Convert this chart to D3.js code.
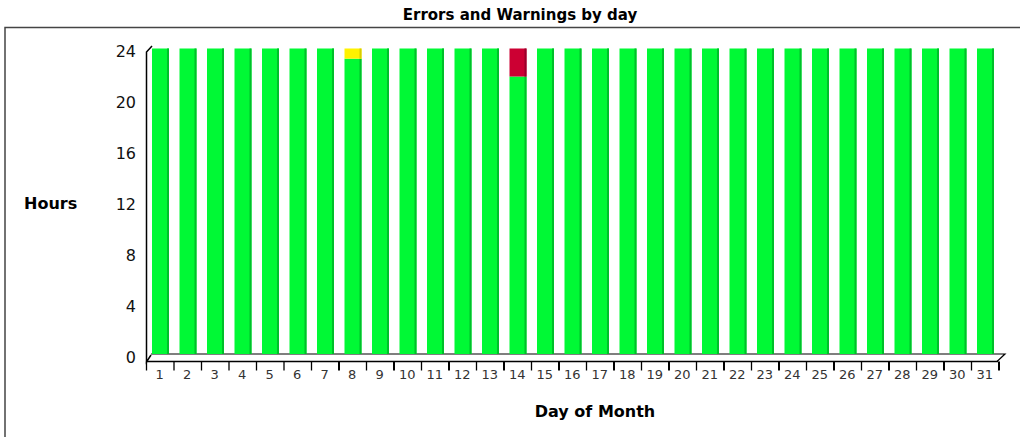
<!DOCTYPE html>
<html>
<head>
<meta charset="utf-8">
<script src="https://cdn.jsdelivr.net/npm/d3@7"></script>
<style>
  body { margin: 0; background: #fff; }
  svg { display: block; }
</style>
</head>
<body>
<svg id="chart" width="1020" height="437"></svg>
<script>
// day of month 1..31
const days = d3.range(1, 32).map(String);
// hours per day, stacked: ok (green), warning (yellow), error (red)
const okHours =      [24,24,24,24,24,24,24,23.2,24,24,24,24,24,21.8,24,24,24,24,24,24,24,24,24,24,24,24,24,24,24,24,24];
const warningHours = [0,0,0,0,0,0,0,0.8,0,0,0,0,0,0,0,0,0,0,0,0,0,0,0,0,0,0,0,0,0,0,0];
const errorHours =   [0,0,0,0,0,0,0,0,0,0,0,0,0,2.2,0,0,0,0,0,0,0,0,0,0,0,0,0,0,0,0,0];
const yTicks = [0, 4, 8, 12, 16, 20, 24];

const svg = d3.select('#chart');
const font = 'DejaVu Sans, Verdana, sans-serif';

// frame (cut off at right and bottom like the original)
svg.append('path')
  .attr('d', 'M5,437 L5,27.5 L1020,27.5')
  .attr('fill', 'none')
  .attr('stroke', '#444')
  .attr('stroke-width', 1.5);

svg.append('text')
  .attr('x', 520).attr('y', 20)
  .attr('text-anchor', 'middle')
  .style('font-family', font)
  .style('font-weight', 'bold')
  .style('font-size', '15px')
  .text('Errors and Warnings by day');

const x = d3.scaleBand().domain(days).range([146, 998.5]).padding(0);
const y = d3.scaleLinear().domain([0, 24]).range([354, 48.5]);

const barOffset = 6, barWidth = 17;

const rows = days.map((d, i) => ({ day: d, ok: okHours[i], warning: warningHours[i], error: errorHours[i] }));
const stack = d3.stack().keys(['ok', 'warning', 'error'])(rows);
const colors = { ok: '#00f935', warning: '#fff200', error: '#cc0033' };
const shades = { ok: '#00c02a', warning: '#d8cc00', error: '#99002a' };

// back floor line
svg.append('path')
  .attr('d', `M151,354 L1005,354 L997,361.5`)
  .attr('fill', 'none').attr('stroke', '#000').attr('stroke-width', 1.2);

const layers = svg.append('g').selectAll('g')
  .data(stack).enter().append('g');

layers.selectAll('rect.face')
  .data(s => s.map(v => ({ key: s.key, v })))
  .enter().append('rect')
  .attr('x', d => x(d.v.data.day) + barOffset)
  .attr('y', d => y(d.v[1]))
  .attr('width', barWidth)
  .attr('height', d => y(d.v[0]) - y(d.v[1]))
  .attr('fill', d => colors[d.key]);

layers.selectAll('rect.side')
  .data(s => s.map(v => ({ key: s.key, v })))
  .enter().append('rect')
  .attr('x', d => x(d.v.data.day) + barOffset + barWidth - 2)
  .attr('y', d => y(d.v[1]))
  .attr('width', 2)
  .attr('height', d => y(d.v[0]) - y(d.v[1]))
  .attr('fill', d => shades[d.key]);

// axes
svg.append('path')
  .attr('d', 'M152,46 L146.5,52 L146.5,362 L151,355')
  .attr('fill', 'none').attr('stroke', '#000').attr('stroke-width', 1.5);

const xAxis = svg.append('g').attr('transform', 'translate(0,361.5)');
xAxis.append('line').attr('x1', 146).attr('x2', 998).attr('stroke', '#000').attr('stroke-width', 1.5);
xAxis.selectAll('line.tick')
  .data(days.concat(['end']))
  .enter().append('line')
  .attr('x1', (d, i) => 146.5 + i * x.step())
  .attr('x2', (d, i) => 146.5 + i * x.step())
  .attr('y1', 0).attr('y2', 9)
  .attr('stroke', '#000').attr('stroke-width', (d, i) => i % 2 === 1 && i > 6 ? 2 : 1.3);
xAxis.selectAll('text')
  .data(days)
  .enter().append('text')
  .attr('x', d => x(d) + x.bandwidth() / 2)
  .attr('y', 17)
  .attr('text-anchor', 'middle')
  .style('font-family', font)
  .style('font-size', '13px')
  .attr('fill', '#333')
  .text(d => d);

svg.append('g').selectAll('text')
  .data(yTicks)
  .enter().append('text')
  .attr('x', 136)
  .attr('y', d => y(d) + 8.5)
  .attr('text-anchor', 'end')
  .style('font-family', font)
  .style('font-size', '16px')
  .attr('fill', '#111')
  .text(d => d);

svg.append('text')
  .attr('x', 24).attr('y', 209)
  .style('font-family', font)
  .style('font-weight', 'bold')
  .style('font-size', '16px')
  .text('Hours');

svg.append('text')
  .attr('x', 595).attr('y', 417)
  .attr('text-anchor', 'middle')
  .style('font-family', font)
  .style('font-weight', 'bold')
  .style('font-size', '16px')
  .text('Day of Month');
</script>
</body>
</html>
